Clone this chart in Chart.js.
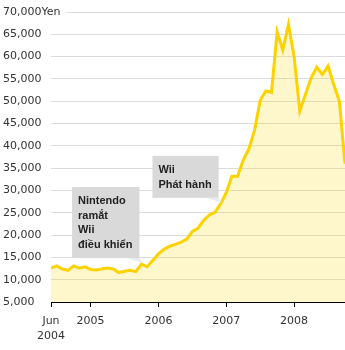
<!DOCTYPE html>
<html>
<head>
  <meta charset="utf-8">
  <title>Wii</title>
  <style>
    html, body { margin: 0; padding: 0; background: #fff; }
    .container { width: 345px; height: 350px; }
  </style>
</head>
<body>
  <div class="container"><canvas id="price-chart"></canvas></div>

  <script src="https://cdn.jsdelivr.net/npm/chart.js"></script>
  <script>
    const months = [
      '2004-06', '2004-07', '2004-08', '2004-09', '2004-10', '2004-11', '2004-12',
      '2005-01', '2005-02', '2005-03', '2005-04', '2005-05', '2005-06',
      '2005-07', '2005-08', '2005-09', '2005-10', '2005-11', '2005-12',
      '2006-01', '2006-02', '2006-03', '2006-04', '2006-05', '2006-06',
      '2006-07', '2006-08', '2006-09', '2006-10', '2006-11', '2006-12',
      '2007-01', '2007-02', '2007-03', '2007-04', '2007-05', '2007-06',
      '2007-07', '2007-08', '2007-09', '2007-10', '2007-11', '2007-12',
      '2008-01', '2008-02', '2008-03', '2008-04', '2008-05', '2008-06',
      '2008-07', '2008-08', '2008-09', '2008-10'
    ];
    const prices = [
      12600, 13100, 12400, 12100, 13100, 12600, 12900,
      12300, 12200, 12400, 12600, 12400, 11600,
      11900, 12100, 11800, 13500, 12900, 14300,
      15800, 16800, 17500, 17900, 18400, 19100,
      20800, 21500, 23300, 24500, 25100, 27000,
      29500, 33200, 33200, 36800, 39300, 43500,
      50200, 52300, 52000, 65500, 61500, 67200,
      60000, 47800, 51500, 55200, 57600, 56000,
      57900, 53800, 50000, 36000
    ];
    const tickMonths = ['2004-06', '2005-01', '2006-01', '2007-01', '2008-01'];
    const tickLabels = [['Jun', '2004'], '2005', '2006', '2007', '2008'];
    const yMin = 5000, yMax = 70000, yStep = 5000, yUnit = 'Yen';

    const notes = [
      { month: '2005-10', lines: ['Nintendo', 'ramắt', 'Wii', 'điều khiển'] },
      { month: '2006-12', lines: ['Wii', 'Phát hành'] }
    ];

    const tickFont = { family: '"DejaVu Sans", sans-serif', size: 11, lineHeight: 1.36 };

    // unit after the top y label; the scale clips its own labels, so draw it here
    const unitPlugin = {
      id: 'unit',
      beforeDatasetsDraw(chart) {
        const { ctx, scales: { y } } = chart;
        const top = y.getPixelForValue(yMax);
        ctx.save();
        ctx.font = '11px "DejaVu Sans", sans-serif';
        const x0 = y.left + ctx.measureText(yMax.toLocaleString('en-US')).width;
        const w = ctx.measureText(yUnit).width;
        ctx.fillStyle = '#fff';
        ctx.fillRect(x0, top - 3, w + 6, 6);
        ctx.fillStyle = '#333';
        ctx.textBaseline = 'middle';
        ctx.textAlign = 'left';
        ctx.fillText(yUnit, x0, top);
        ctx.restore();
      }
    };

    const notePlugin = {
      id: 'notes',
      afterDatasetsDraw(chart) {
        const { ctx, scales: { x, y } } = chart;
        const lineH = 14.5;
        ctx.save();
        ctx.font = 'bold 11px "Liberation Sans", Arial, sans-serif';
        notes.forEach(n => {
          const i = months.indexOf(n.month);
          const ax = x.getPixelForValue(i);
          const ay = y.getPixelForValue(prices[i]);
          const w = Math.max(...n.lines.map(l => ctx.measureText(l).width)) + 13;
          const h = n.lines.length * lineH + 13;
          const right = ax - 2, bottom = ay - 6;
          const left = right - w, top = bottom - h;
          ctx.fillStyle = '#d9d9d9';
          ctx.fillRect(left, top, w, h);
          // little pointer
          ctx.fillStyle = '#e8ecee';
          ctx.beginPath();
          ctx.moveTo(right - 12, bottom);
          ctx.lineTo(right, bottom);
          ctx.lineTo(right + 3, bottom + 5);
          ctx.closePath();
          ctx.fill();
          ctx.fillStyle = '#222';
          ctx.textBaseline = 'middle';
          ctx.textAlign = 'left';
          n.lines.forEach((l, k) => {
            ctx.fillText(l, left + 6, top + 7 + lineH / 2 + k * lineH);
          });
        });
        ctx.restore();
      }
    };

    new Chart(document.getElementById('price-chart'), {
      type: 'line',
      data: {
        datasets: [{
          data: prices.map((v, i) => ({ x: i, y: v })),
          borderColor: '#fcd200',
          borderWidth: 3,
          backgroundColor: 'rgba(255, 215, 0, 0.2)',
          fill: 'start',
          tension: 0,
          pointRadius: 0
        }]
      },
      options: {
        responsive: true,
        maintainAspectRatio: false,
        animation: false,
        layout: { padding: { left: 3, top: 12, right: 0, bottom: 0 } },
        plugins: { legend: { display: false }, tooltip: { enabled: false } },
        scales: {
          x: {
            type: 'linear',
            min: 0,
            max: months.length - 1,
            afterBuildTicks: (scale) => {
              scale.ticks = tickMonths.map(m => ({ value: months.indexOf(m) }));
            },
            afterFit: (scale) => { scale.height = 48; },
            grid: { drawOnChartArea: false, drawTicks: true, tickLength: 5, color: '#000' },
            border: { display: true, color: '#000', width: 1 },
            ticks: {
              autoSkip: false,
              maxRotation: 0,
              padding: 7,
              color: '#333',
              font: tickFont,
              callback: (v) => tickLabels[tickMonths.indexOf(months[v])]
            }
          },
          y: {
            min: yMin,
            max: yMax,
            afterFit: (scale) => { scale.width = 48; },
            grid: { color: '#dcdcdc', drawTicks: false },
            border: { display: false },
            ticks: {
              stepSize: yStep,
              crossAlign: 'far',
              color: '#333',
              font: tickFont,
              callback: (v) => v.toLocaleString('en-US')
            }
          }
        }
      },
      plugins: [unitPlugin, notePlugin]
    });
  </script>
</body>
</html>
